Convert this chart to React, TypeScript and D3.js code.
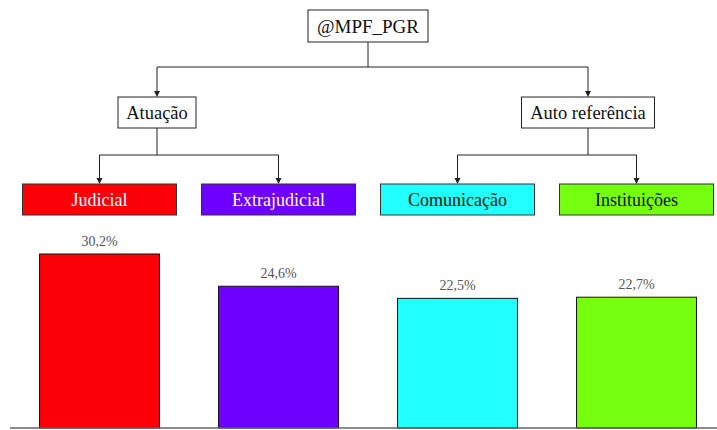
import React from 'react';
import * as d3 from 'd3';

const categories = ['Judicial', 'Extrajudicial', 'Comunicação', 'Instituições'];
const values = [30.2, 24.6, 22.5, 22.7];
const barColors = ['#fb0007', '#6e00ff', '#22ffff', '#77ff11'];
const labelColors = ['#ffffff', '#ffffff', '#111111', '#111111'];
const groups = ['Atuação', 'Auto referência'];
const groupWidths = [78, 133];
const rootLabel = '@MPF_PGR';

const W = 717;
const H = 430;
const FONT = 'Liberation Serif, Times New Roman, serif';

const App: React.FC = () => {
  const x = d3.scaleBand<string>()
    .domain(categories)
    .range([10, 726])
    .paddingInner(0.33)
    .paddingOuter(0.165);

  const y = d3.scaleLinear()
    .domain([0, 30.2])
    .range([428, 254]);

  const bw = x.bandwidth();
  const boxW = 154;
  const cx = (c: string) => (x(c) ?? 0) + bw / 2;

  // tree layout
  const rootX = 368;
  const groupX = [157, 588];
  const groupChildren = [categories.slice(0, 2), categories.slice(2)];

  const arrow = (x0: number, y0: number, y1: number, key: string) => (
    <g key={key}>
      <line x1={x0} y1={y0} x2={x0} y2={y1 - 5} stroke="#222" strokeWidth={1} />
      <path d={`M${x0 - 3},${y1 - 6}L${x0 + 3},${y1 - 6}L${x0},${y1}Z`} fill="#222" />
    </g>
  );

  return (
    <svg width={W} height={H} style={{ position: 'absolute', left: 0, top: 0, background: 'white', fontFamily: FONT }}>
      {/* root */}
      <rect x={308} y={10} width={120} height={32} fill="white" stroke="#222" strokeWidth={1} />
      <text x={rootX} y={32.5} textAnchor="middle" fontSize={19} fill="#111">{rootLabel}</text>
      <line x1={rootX} y1={42} x2={rootX} y2={67} stroke="#222" />
      <line x1={groupX[0]} y1={67} x2={groupX[1]} y2={67} stroke="#222" />
      {groupX.map((gx, i) => arrow(gx, 67, 97, 'ga' + i))}

      {groups.map((g, i) => (
        <g key={g}>
          <rect x={groupX[i] - groupWidths[i] / 2} y={97} width={groupWidths[i]} height={31}
            fill="white" stroke="#222" strokeWidth={1} />
          <text x={groupX[i]} y={118.5} textAnchor="middle" fontSize={18.5} fill="#111">{g}</text>
          <line x1={groupX[i]} y1={128} x2={groupX[i]} y2={155} stroke="#222" />
          <line x1={cx(groupChildren[i][0])} y1={155} x2={cx(groupChildren[i][1])} y2={155} stroke="#222" />
          {groupChildren[i].map(c => arrow(cx(c), 155, 184, 'ca' + c))}
        </g>
      ))}

      {categories.map((c, i) => (
        <g key={c}>
          <rect x={cx(c) - boxW / 2} y={184} width={boxW} height={31}
            fill={barColors[i]} stroke="#333" strokeWidth={1} />
          <text x={cx(c)} y={205.5} textAnchor="middle" fontSize={18} fill={labelColors[i]}>{c}</text>
        </g>
      ))}

      {/* bars */}
      {categories.map((c, i) => (
        <g key={'b' + c}>
          <rect x={x(c)} y={y(values[i])} width={bw} height={y(0) - y(values[i])}
            fill={barColors[i]} stroke="#111" strokeWidth={1} />
          <text x={cx(c)} y={y(values[i]) - 8} textAnchor="middle" fontSize={14} fill="#555">
            {values[i].toFixed(1).replace('.', ',')}%
          </text>
        </g>
      ))}
      <line x1={10} y1={y(0)} x2={W} y2={y(0)} stroke="#666" strokeWidth={1.5} />
    </svg>
  );
};

export default App;
